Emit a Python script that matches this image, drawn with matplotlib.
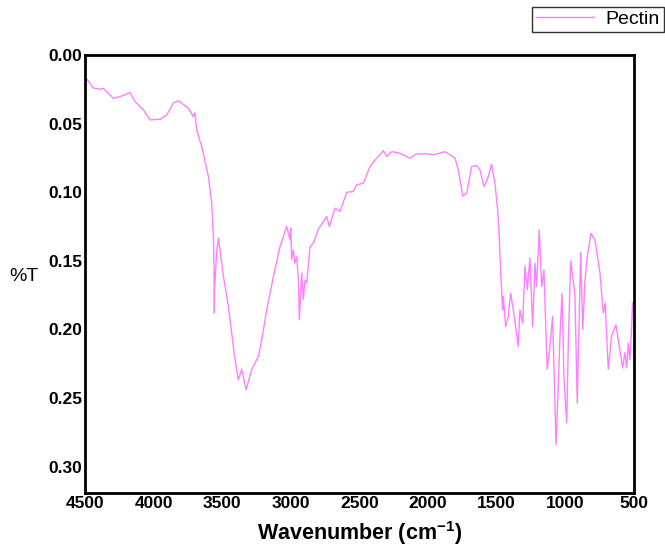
import matplotlib.pyplot as plt

# FTIR spectrum of pectin
wavenumber = [4500, 4440, 4391, 4367, 4294, 4245, 4172, 4136, 4075, 4026, 3953, 3905,
              3856, 3820, 3747, 3711, 3700, 3686, 3650, 3601, 3577, 3565, 3560, 3558,
              3556, 3540, 3528, 3492, 3456, 3407, 3383, 3358, 3327, 3285, 3237, 3212,
              3176, 3127, 3079, 3030, 3006, 3001, 2994, 2982, 2970, 2957, 2945, 2938,
              2921, 2909, 2897, 2884, 2860, 2836, 2800, 2739, 2719, 2678, 2641, 2593,
              2544, 2520, 2471, 2423, 2386, 2362, 2326, 2301, 2265, 2204, 2131, 2083,
              2010, 1961, 1876, 1803, 1779, 1747, 1718, 1682, 1645, 1621, 1592, 1568,
              1536, 1512, 1492, 1480, 1470, 1456, 1451, 1434, 1415, 1398, 1378, 1342,
              1330, 1310, 1293, 1276, 1257, 1237, 1220, 1208, 1189, 1171, 1155, 1131,
              1111, 1092, 1082, 1067, 1053, 1038, 1023, 1009, 989, 977, 960, 929,
              912, 897, 887, 872, 856, 839, 812, 783, 746, 722, 708, 686,
              662, 630, 601, 581, 565, 552, 540, 528, 516, 509, 500]
transmittance = [0.016, 0.024, 0.025, 0.0243, 0.0316, 0.0303, 0.0274, 0.034, 0.040, 0.0473, 0.0468, 0.0437,
                 0.035, 0.0333, 0.0388, 0.045, 0.042, 0.0546, 0.0667, 0.0886, 0.108, 0.132, 0.154, 0.188,
                 0.171, 0.142, 0.1334, 0.161, 0.183, 0.222, 0.2366, 0.229, 0.244, 0.229, 0.2197, 0.2075,
                 0.1857, 0.1614, 0.1396, 0.125, 0.1347, 0.126, 0.149, 0.142, 0.1517, 0.147, 0.164, 0.193,
                 0.159, 0.178, 0.164, 0.166, 0.1396, 0.137, 0.127, 0.1177, 0.125, 0.1116, 0.114, 0.100,
                 0.0995, 0.0946, 0.0934, 0.0813, 0.0764, 0.074, 0.0697, 0.074, 0.0704, 0.0716, 0.0752, 0.072,
                 0.072, 0.0728, 0.0704, 0.0752, 0.0837, 0.1027, 0.1007, 0.0813, 0.0806, 0.0837, 0.0959, 0.091,
                 0.0796, 0.0934, 0.1128, 0.1347, 0.159, 0.1857, 0.176, 0.198, 0.1906, 0.1735, 0.1857, 0.2124,
                 0.1857, 0.1954, 0.154, 0.171, 0.148, 0.198, 0.1517, 0.1687, 0.1274, 0.1687, 0.1566, 0.229,
                 0.2124, 0.1906, 0.2245, 0.284, 0.2488, 0.205, 0.1735, 0.234, 0.268, 0.21, 0.150, 0.1735,
                 0.2536, 0.188, 0.144, 0.200, 0.165, 0.147, 0.130, 0.1347, 0.159, 0.188, 0.181, 0.229,
                 0.205, 0.1966, 0.215, 0.228, 0.217, 0.228, 0.21, 0.222, 0.200, 0.181, 0.18]

x_ticks = [4500, 4000, 3500, 3000, 2500, 2000, 1500, 1000, 500]
y_ticks = [0.00, 0.05, 0.10, 0.15, 0.20, 0.25, 0.30]

plt.rcParams['font.family'] = ['Liberation Sans', 'DejaVu Sans']
plt.rcParams['mathtext.fontset'] = 'custom'
plt.rcParams['mathtext.rm'] = 'Liberation Sans:bold'
plt.rcParams['mathtext.bf'] = 'Liberation Sans:bold'

fig = plt.figure(figsize=(6.65, 5.5), dpi=100)
ax = fig.add_axes([0.128, 0.104, 0.825, 0.796])

line, = ax.plot(wavenumber, transmittance, color='#ff80ff', linewidth=1, label='Pectin')

ax.set_xlim(4500, 500)
ax.set_ylim(0.319, 0.0)
ax.set_xticks(x_ticks)
ax.set_yticks(y_ticks)
ax.set_yticklabels(['%.2f' % v for v in y_ticks])
ax.tick_params(length=0, labelsize=12.5, pad=2)
for lab in ax.get_xticklabels() + ax.get_yticklabels():
    lab.set_fontweight('bold')
for s in ax.spines.values():
    s.set_linewidth(2)

ax.set_xlabel('Wavenumber (cm$^{\\mathbf{-1}}$)', fontsize=15.5, fontweight='bold', labelpad=6)
ax.set_ylabel('%T', fontsize=14, rotation=0, va='center', ha='center')
ax.yaxis.set_label_coords(-0.111, 0.495)

leg = fig.legend(handles=[line], loc='upper right', bbox_to_anchor=(0.998, 0.988),
                 fontsize=14, frameon=True, fancybox=False, handlelength=3.0,
                 borderpad=0.2, borderaxespad=0, handletextpad=0.6)
leg.get_frame().set_edgecolor('black')
leg.get_frame().set_linewidth(1)

fig.savefig('out.png', dpi=100)
